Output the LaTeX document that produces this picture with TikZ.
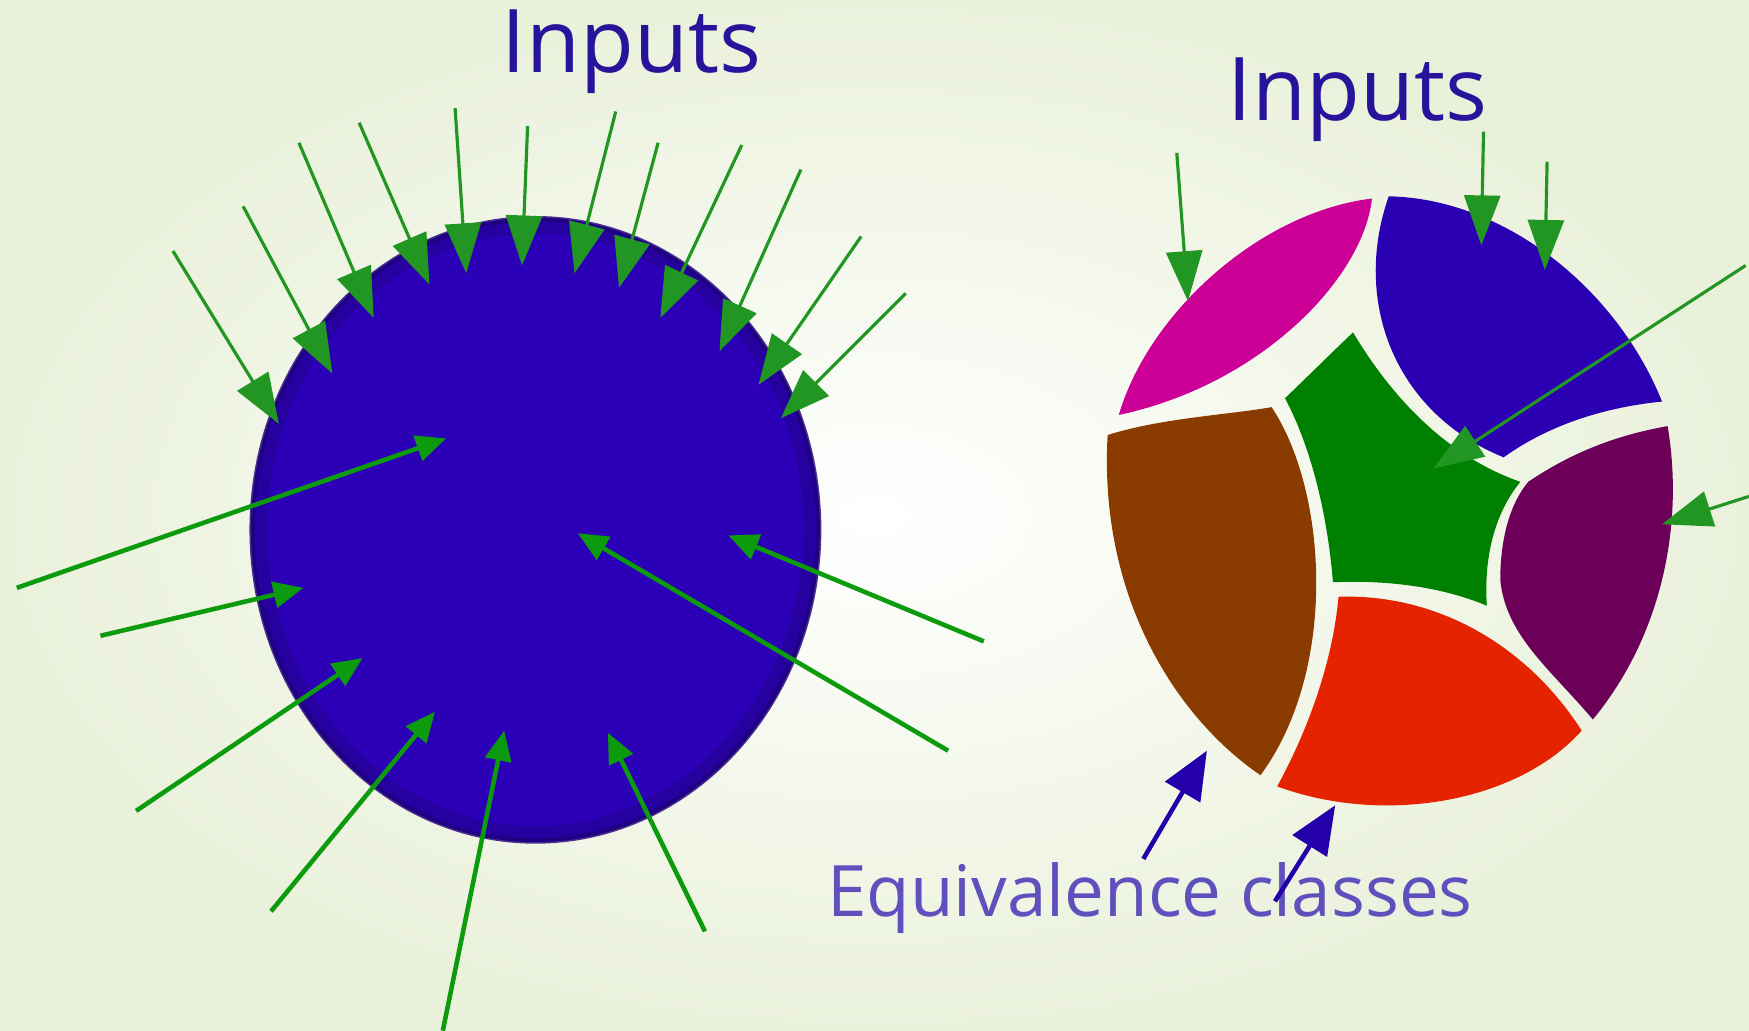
\documentclass[tikz,border=0pt]{standalone}
\usepackage{fontspec}
\setmainfont{Open Sans}
\usetikzlibrary{arrows.meta}
\definecolor{bgedge}{RGB}{234,241,219}
\definecolor{discblue}{RGB}{44,0,182}
\definecolor{discrim}{RGB}{30,0,120}
\definecolor{arrgreen}{RGB}{34,150,34}
\definecolor{arrlime}{RGB}{12,155,12}
\definecolor{labelblue}{RGB}{40,20,155}
\definecolor{eqblue}{RGB}{95,80,190}
\definecolor{arrblue}{RGB}{35,0,170}
\definecolor{segmagenta}{RGB}{204,0,150}
\definecolor{segblue}{RGB}{42,0,178}
\definecolor{seggreen}{RGB}{0,128,0}
\definecolor{segbrown}{RGB}{138,60,0}
\definecolor{segred}{RGB}{230,35,0}
\definecolor{segpurple}{RGB}{108,0,88}
\begin{document}
\begin{tikzpicture}[x=0.011154cm, y=-0.011154cm,
  thinin/.style={draw=arrgreen, line width=0.9pt, -{Triangle[length=0.5cm, width=0.36cm]}},
  thickin/.style={draw=arrlime, line width=1.3pt, -{Triangle[length=0.3cm, width=0.26cm]}},
  classarrow/.style={draw=arrblue, line width=1.3pt, -{Triangle[length=0.48cm, width=0.4cm]}},
  title/.style={text=labelblue, font=\fontsize{25}{25}\selectfont, anchor=base, inner sep=0pt}]
\useasboundingbox (0,0) rectangle (1568,924);
\shade[inner color=white, outer color=bgedge] (0,0) rectangle (1568,924);

% left disc, darker at the rim
\fill[discblue] (480,475) ellipse [x radius=255, y radius=280];
\draw[discrim, opacity=0.35, line width=4pt] (480,475) ellipse [x radius=247, y radius=272];
\draw[discrim, opacity=0.8, line width=1.5pt] (480,475) ellipse [x radius=254, y radius=279];
\node[title] (inL) at (566,65) {Inputs};

% inputs hitting the rim
\draw[thinin] (155,225) -- (250,380);
\draw[thinin] (218,185) -- (298,335);
\draw[thinin] (268,128) -- (335,285);
\draw[thinin] (322,110) -- (385,255);
\draw[thinin] (408,97) -- (418,245);
\draw[thinin] (473,113) -- (468,238);
\draw[thinin] (552,100) -- (515,245);
\draw[thinin] (590,128) -- (555,258);
\draw[thinin] (665,130) -- (592,285);
\draw[thinin] (718,152) -- (645,315);
\draw[thinin] (772,212) -- (680,345);
\draw[thinin] (812,263) -- (700,375);

% inputs reaching inside
\draw[thickin] (15,527) -- (400,393);
\draw[thickin] (90,570) -- (272,527);
\draw[thickin] (122,727) -- (325,590);
\draw[thickin] (243,817) -- (390,638);
\draw[thickin] (397,924) -- (452,655);
\draw[thickin] (632,835) -- (545,657);
\draw[thickin] (850,673) -- (518,478);
\draw[thickin] (882,575) -- (653,480);

% right disc, split into classes
\fill[segmagenta] (1003,372) .. controls (1030,280) and (1130,190) .. (1230,178)
  .. controls (1222,250) and (1130,345) .. cycle;
\fill[segblue] (1245,176) .. controls (1350,178) and (1450,260) .. (1490,360)
  .. controls (1440,365) and (1390,380) .. (1348,410)
  .. controls (1250,370) and (1212,270) .. cycle;
\fill[seggreen] (1152,357) .. controls (1175,335) and (1195,315) .. (1213,298)
  .. controls (1250,360) and (1300,410) .. (1363,432)
  .. controls (1340,460) and (1330,500) .. (1333,543)
  .. controls (1290,525) and (1240,520) .. (1195,522)
  .. controls (1190,460) and (1175,400) .. cycle;
\fill[segbrown] (993,390) .. controls (1040,375) and (1100,372) .. (1140,365)
  .. controls (1190,440) and (1200,600) .. (1130,695)
  .. controls (1050,640) and (985,530) .. cycle;
\fill[segred] (1200,535) .. controls (1290,532) and (1370,580) .. (1418,655)
  .. controls (1360,720) and (1240,740) .. (1145,705)
  .. controls (1175,650) and (1195,590) .. cycle;
\fill[segpurple] (1495,382) .. controls (1510,470) and (1490,570) .. (1428,645)
  .. controls (1390,600) and (1350,570) .. (1345,520)
  .. controls (1345,480) and (1355,450) .. (1370,432)
  .. controls (1410,405) and (1450,390) .. cycle;
\node[title] (inR) at (1217,108) {Inputs};

\draw[thinin] (1055,137) -- (1065,270);
\draw[thinin] (1330,118) -- (1328,220);
\draw[thinin] (1387,145) -- (1385,242);
\draw[thinin] (1565,238) -- (1285,420);
\draw[thinin] (1568,445) -- (1490,470);

\node[title, text=eqblue, font=\fontsize{20.2}{20.2}\selectfont] (eq) at (1031,822) {Equivalence classes};
\draw[classarrow] (1025,770) -- (1082,673);
\draw[classarrow] (1143,808) -- (1197,722);
\end{tikzpicture}
\end{document}
